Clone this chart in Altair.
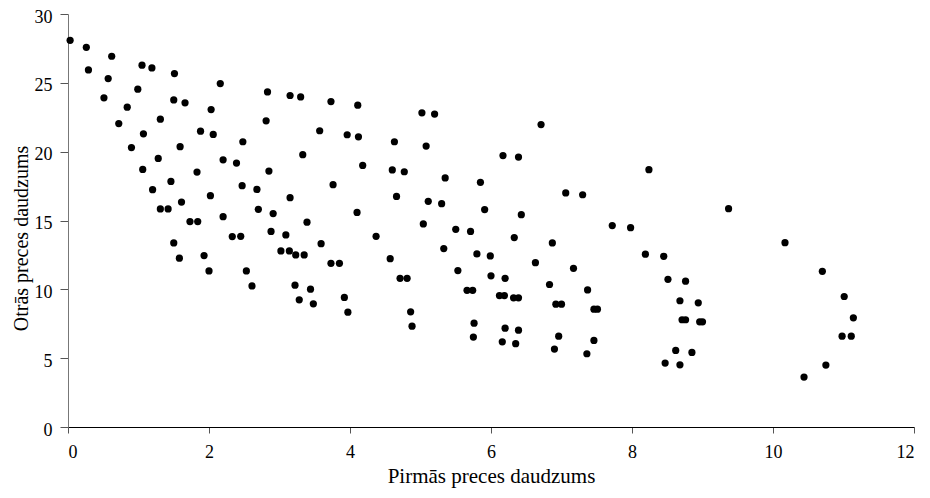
import altair as alt
import pandas as pd

x_vals = [0.03, 0.26, 0.62, 0.29, 1.05, 1.19, 0.57, 1.51, 0.99, 2.16,
          0.51, 1.50, 1.66, 0.84, 2.03, 1.31, 0.72, 1.07, 1.88, 2.06,
          0.90, 1.59, 1.28, 2.20, 2.39, 1.06, 1.83, 1.46, 1.20, 2.02,
          1.61, 1.31, 1.42, 1.73, 1.84, 2.20, 2.33, 2.45, 1.50, 1.58,
          1.93, 2.00,
          2.83, 3.15, 3.30, 3.73, 4.11, 2.81, 3.57, 3.96, 4.12, 4.63,
          2.48, 3.33, 2.85, 4.18, 4.60, 4.77, 2.47, 2.68, 3.76, 3.15,
          4.66, 2.70, 2.91, 4.10, 3.39, 2.88,
          3.09, 4.37, 3.59, 3.02, 3.14, 3.23, 3.35, 4.57, 3.73, 3.85,
          2.53, 4.71, 2.61, 3.22, 3.44, 3.28, 3.48, 3.92, 3.97,
          5.02, 5.20, 6.71, 5.08, 6.17, 6.39, 5.35, 5.85, 7.06, 5.11,
          5.30, 5.91, 6.43, 5.04, 5.50, 5.71,
          6.33, 6.87, 5.33, 5.80, 5.99, 6.63, 7.17, 5.53, 4.81, 6.00,
          6.20, 6.83, 5.66, 5.74, 6.12, 6.19, 6.32, 6.39, 6.92, 7.00,
          4.86, 4.88, 5.76, 5.75, 6.20, 6.39, 6.16, 6.35, 6.96, 6.90,
          8.24, 7.30, 9.37, 7.72, 7.98, 8.19, 8.45, 7.37, 8.51, 8.76,
          7.46, 7.51, 8.68, 8.94, 8.71, 8.76, 8.96, 9.00, 7.46, 7.36,
          8.62, 8.85, 8.47, 8.68,
          10.17, 10.70, 11.01, 11.14, 10.98, 11.11, 10.75, 10.44]

y_vals = [28.09, 27.58, 26.93, 25.94, 26.28, 26.08, 25.31, 25.67, 24.54, 24.95,
          23.91, 23.76, 23.55, 23.23, 23.06, 22.36, 22.04, 21.30, 21.49, 21.25,
          20.30, 20.36, 19.51, 19.41, 19.17, 18.71, 18.52, 17.84, 17.24, 16.80,
          16.34, 15.84, 15.84, 14.92, 14.92, 15.28, 13.83, 13.85, 13.37, 12.26,
          12.45, 11.34,
          24.34, 24.08, 23.98, 23.64, 23.38, 22.24, 21.52, 21.23, 21.08, 20.72,
          20.72, 19.78, 18.59, 19.00, 18.67, 18.54, 17.53, 17.26, 17.60, 16.66,
          16.75, 15.81, 15.50, 15.59, 14.88, 14.21,
          13.95, 13.85, 13.32, 12.79, 12.79, 12.50, 12.50, 12.23, 11.89, 11.89,
          11.34, 10.80, 10.25, 10.30, 10.01, 9.24, 8.95, 9.41, 8.34,
          22.82, 22.73, 21.97, 20.41, 19.72, 19.61, 18.09, 17.77, 17.00, 16.39,
          16.22, 15.79, 15.42, 14.75, 14.36, 14.21,
          13.76, 13.37, 12.96, 12.57, 12.43, 11.94, 11.53, 11.36, 10.80, 10.98,
          10.80, 10.35, 9.93, 9.93, 9.55, 9.55, 9.38, 9.38, 8.92, 8.92,
          8.37, 7.32, 7.54, 6.53, 7.18, 7.03, 6.19, 6.05, 6.60, 5.66,
          18.69, 16.87, 15.86, 14.63, 14.48, 12.55, 12.40, 9.96, 10.73, 10.59,
          8.56, 8.56, 9.17, 9.02, 7.79, 7.79, 7.64, 7.64, 6.29, 5.32,
          5.56, 5.42, 4.64, 4.52,
          13.39, 11.31, 9.48, 7.93, 6.60, 6.60, 4.50, 3.63]

x_ticks = [0, 2, 4, 6, 8, 10, 12]
y_ticks = [0, 5, 10, 15, 20, 25, 30]

df = pd.DataFrame({"x": x_vals, "y": y_vals})

font = "Liberation Serif"

chart = alt.Chart(df).mark_circle(color="black", opacity=1, size=52).encode(
    x=alt.X("x:Q", title="Pirmās preces daudzums",
            scale=alt.Scale(domain=[0, 12], nice=False, zero=False),
            axis=alt.Axis(values=x_ticks, grid=False, domainColor="black",
                          tickColor="#555555", tickSize=6, labelPadding=10,
                          labelFont=font, labelFontSize=18, labelColor="black",
                          titleFont=font, titleFontSize=21, titleFontWeight="normal",
                          titleColor="black", titlePadding=4)),
    y=alt.Y("y:Q", title="Otrās preces daudzums",
            scale=alt.Scale(domain=[0, 30], nice=False, zero=False),
            axis=alt.Axis(values=y_ticks, grid=False, domainColor="#777777",
                          tickColor="#555555", tickSize=8, labelPadding=8,
                          labelOffset=3,
                          labelFont=font, labelFontSize=18, labelColor="black",
                          titleFont=font, titleFontSize=20, titleFontWeight="normal",
                          titleColor="black", titleAngle=270,
                          titleBaseline="alphabetic", titleAlign="center",
                          titleX=-41, titleY=224)),
).properties(
    width=846, height=413,
    autosize=alt.AutoSizeParams(type="none"),
    padding={"left": 60, "top": 6, "right": 8, "bottom": 62},
).configure_view(stroke=None)

chart.save("out.html", embed_options={"renderer": "svg", "actions": False})
